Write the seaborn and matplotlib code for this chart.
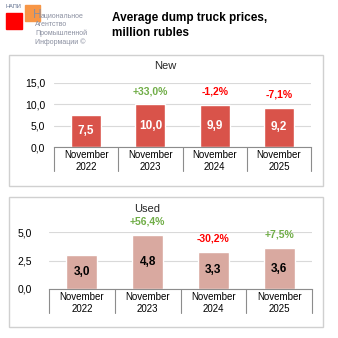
import matplotlib
matplotlib.use("Agg")
import matplotlib.pyplot as plt
import seaborn as sns
import pandas as pd
from matplotlib.patches import Rectangle
from matplotlib.transforms import blended_transform_factory

# Data
periods = ["November\n2022", "November\n2023", "November\n2024", "November\n2025"]
new_prices = [7.5, 10.0, 9.9, 9.2]
used_prices = [3.0, 4.8, 3.3, 3.6]
new_changes = [None, 33.0, -1.2, -7.1]
used_changes = [None, 56.4, -30.2, 7.5]
new_yticks = [0.0, 5.0, 10.0, 15.0]
used_yticks = [0.0, 2.5, 5.0]

sns.set_theme(style="white")
plt.rcParams["font.family"] = ["Liberation Sans", "DejaVu Sans"]

W = H = 338
fig = plt.figure(figsize=(W / 100, H / 100), dpi=100)
fig.patch.set_facecolor("white")


def px_rect(x0, y0, x1, y1):
    return [x0 / W, 1 - y1 / H, (x1 - x0) / W, (y1 - y0) / H]


def fmt(v):
    return f"{v:.1f}".replace(".", ",")


def fmt_change(c):
    return f"{c:+.1f}%".replace(".", ",")


GREEN = "#70AD47"
RED = "#FF0000"
AXIS_GREY = "#8C8C8C"


def draw_panel(rect, values, changes, yticks, bar_color, label_color,
               ypad, sep_px):
    ax = fig.add_axes(px_rect(*rect))
    df = pd.DataFrame({"period": periods, "price": values})
    sns.barplot(data=df, x="period", y="price", color=bar_color,
                width=0.47, saturation=1, ax=ax)
    ax.set_xlim(-0.5, len(periods) - 0.5)
    ax.set_ylim(yticks[0], yticks[-1])
    ax.set_yticks(yticks)
    ax.set_yticklabels([fmt(t) for t in yticks])
    ax.set_xlabel("")
    ax.set_ylabel("")
    ax.yaxis.grid(True, color="#D9D9D9", linewidth=0.8)
    ax.set_axisbelow(True)
    for s in ("left", "right", "top"):
        ax.spines[s].set_visible(False)
    ax.spines["bottom"].set_color(AXIS_GREY)
    ax.spines["bottom"].set_linewidth(0.8)
    ax.tick_params(axis="y", length=0, pad=ypad, labelsize=7.5,
                   labelcolor="#000000")
    ax.tick_params(axis="x", length=0, pad=2, labelsize=7,
                   labelcolor="#000000")
    for lbl in ax.get_xticklabels():
        lbl.set_linespacing(1.3)

    # category separators below the axis
    ax_h = rect[3] - rect[1]
    trans = blended_transform_factory(ax.transData, ax.transAxes)
    for k in range(len(periods) + 1):
        ax.plot([k - 0.5, k - 0.5], [0, -sep_px / ax_h], transform=trans,
                color=AXIS_GREY, linewidth=0.8, clip_on=False)

    for i, (v, c) in enumerate(zip(values, changes)):
        ax.text(i, v / 2, fmt(v), ha="center", va="center",
                fontsize=8.5, fontweight="bold", color=label_color)
        if c is not None:
            ax.annotate(fmt_change(c), xy=(i, v), xytext=(0, 9.5),
                        textcoords="offset points", ha="center",
                        va="center", fontsize=7.5, fontweight="bold",
                        color=GREEN if c > 0 else RED,
                        annotation_clip=False)
    return ax


# panel frames
for y0, y1 in [(55, 186), (197, 327)]:
    fig.patches.append(Rectangle((9 / W, 1 - y1 / H), (323 - 9) / W,
                                 (y1 - y0) / H, transform=fig.transFigure,
                                 fill=False, edgecolor="#D0D0D0",
                                 linewidth=1.0))

draw_panel((54, 82.7, 311, 147.3), new_prices, new_changes, new_yticks,
           "#D9534A", "white", 6.5, 23.4)
fig.text(165 / W, 1 - 66 / H, "New", ha="center", va="center", fontsize=8)

draw_panel((49, 232.3, 312, 289), used_prices, used_changes, used_yticks,
           "#D9A9A0", "black", 12, 24)
fig.text(147 / W, 1 - 209 / H, "Used", ha="center", va="center",
         fontsize=8)

# title
fig.text(112 / W, 1 - 17.5 / H, "Average dump truck prices,", ha="left",
         va="center", fontsize=8.5, fontweight="bold", color="black")
fig.text(112 / W, 1 - 32.5 / H, "million rubles", ha="left",
         va="center", fontsize=8.5, fontweight="bold", color="black")

# logo
fig.patches.append(Rectangle((6 / W, 1 - 29 / H), 16 / W, 16 / H,
                             transform=fig.transFigure, color="#FF0000"))
fig.patches.append(Rectangle((25 / W, 1 - 20.5 / H), 15 / W, 15.5 / H,
                             transform=fig.transFigure, color="#F79646"))
fig.text(6 / W, 1 - 7 / H, "НАПИ", ha="left", va="center", fontsize=4,
         color="#5A6A8A")
fig.text(32.5 / W, 1 - 14.5 / H, "Н", ha="left", va="center", fontsize=8.5,
         color="#8A8FA0")
logo_lines = ["ациональное", "Агентство", "Промышленной", "Информации ©"]
logo_pos = [(41, 17), (35, 25), (35, 33.5), (35, 42)]
for txt, (x, y) in zip(logo_lines, logo_pos):
    fig.text(x / W, 1 - y / H, txt, ha="left", va="center", fontsize=5,
             color="#8A8FA0")

fig.savefig("out.png", dpi=100)
